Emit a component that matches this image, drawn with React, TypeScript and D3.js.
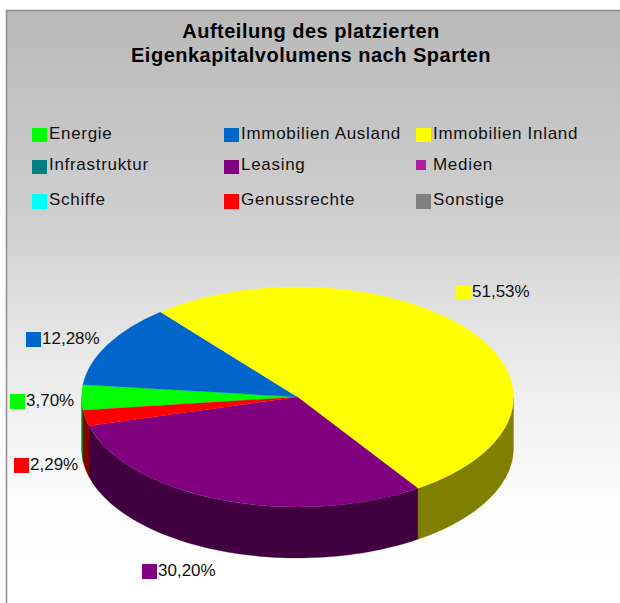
import React from "react";
import * as d3 from "d3";

const categories = ["Energie", "Immobilien Ausland", "Immobilien Inland", "Infrastruktur", "Leasing", "Medien", "Schiffe", "Genussrechte", "Sonstige"];
const shares = [3.7, 12.28, 51.53, 0, 30.2, 0, 0, 2.29, 0];
const colors = ["#00ff00", "#0066cc", "#ffff00", "#008080", "#800080", "#b01ea0", "#00ffff", "#ff0000", "#808080"];
const sideColors = ["#008000", "#003366", "#808000", "#004040", "#400040", "#580f50", "#008080", "#800000", "#404040"];
const titleLines = ["Aufteilung des platzierten", "Eigenkapitalvolumens nach Sparten"];
const labelText = ["3,70%", "12,28%", "51,53%", "", "30,20%", "", "", "2,29%", ""];

const W = 620, H = 603;
const cx = 297.5, cy = 397, rx = 216, ry = 110, depth = 51;
const startDeg = -96.9;
const legendCols = [32, 224, 416];
const legendRows = [128, 160, 194];
const legendH = [14, 14, 15];
const legendBase = [139, 170, 205];
const labelPos: Record<number, [number, number]> = {
  0: [10, 394], 1: [26, 332], 2: [456, 285], 4: [142, 564], 7: [14, 458],
};
const bgStops: [number, string][] = [
  [10, "#b9b9b9"], [230, "#d0d0d0"], [300, "#dfdfdf"], [400, "#f0f0f0"], [500, "#fcfcfc"], [560, "#ffffff"],
];

export default function App() {
  const start = (startDeg * Math.PI) / 180;
  const pie = d3.pie<number>().sort(null).startAngle(start).endAngle(start + 2 * Math.PI);
  const arcs = pie(shares);
  const arc = d3.arc<d3.PieArcDatum<number>>().innerRadius(0).outerRadius(rx);
  const px = (a: number) => cx + rx * Math.sin(a);
  const py = (a: number) => cy - ry * Math.cos(a);

  const walls = arcs.flatMap((s, i) => {
    const out: React.ReactElement[] = [];
    for (const k of [-1, 0, 1]) {
      const a0 = Math.max(s.startAngle + k * 2 * Math.PI, Math.PI / 2);
      const a1 = Math.min(s.endAngle + k * 2 * Math.PI, (3 * Math.PI) / 2);
      if (a1 <= a0) continue;
      const as = d3.range(0, 61).map((j) => a0 + ((a1 - a0) * j) / 60);
      const pts: [number, number][] = [
        ...as.map((a) => [px(a), py(a)] as [number, number]),
        ...as.slice().reverse().map((a) => [px(a), py(a) + depth] as [number, number]),
      ];
      out.push(
        <path key={`${i}-${k}`} d={d3.line()(pts) + "Z"} fill={sideColors[i]} stroke={sideColors[i]} strokeWidth={0.3} />
      );
    }
    return out;
  });

  return (
    <svg width={W} height={H} style={{ position: "absolute", left: 0, top: 0 }} fontFamily="'Liberation Sans', Arial, sans-serif">
      <defs>
        <linearGradient id="bg" gradientUnits="userSpaceOnUse" x1="0" y1="0" x2="0" y2={H}>
          {bgStops.map(([y, c]) => <stop key={y} offset={y / H} stopColor={c} />)}
        </linearGradient>
      </defs>
      <rect x={6} y={10} width={W - 6} height={H - 10} fill="url(#bg)" />
      <path d={`M6.5 ${H}V10.5H${W}`} fill="none" stroke="#8c8c8c" strokeWidth={1.5} />
      {titleLines.map((t, i) => (
        <text key={t} x={311} y={38 + i * 24} textAnchor="middle" fontSize={20} letterSpacing={0.5} fontWeight="bold" fill="#000">{t}</text>
      ))}
      {categories.map((c, i) => {
        const col = i % 3, row = Math.floor(i / 3);
        const small = c === "Medien";
        return (
          <g key={c}>
            <rect x={legendCols[col]} y={legendRows[row]} width={small ? 10 : 15} height={small ? 10 : legendH[row]} fill={colors[i]} />
            <text x={legendCols[col] + 17} y={legendBase[row]} fontSize={17} letterSpacing={0.7} fill="#111">{c}</text>
          </g>
        );
      })}
      {walls}
      <g transform={`translate(${cx},${cy}) scale(1,${ry / rx})`}>
        {arcs.map((s, i) => s.value > 0 && (
          <path key={i} d={arc(s) as string} fill={colors[i]} stroke={colors[i]} strokeWidth={0.3} />
        ))}
      </g>
      {shares.map((v, i) => v > 0 && (
        <g key={i}>
          <rect x={labelPos[i][0]} y={labelPos[i][1]} width={15} height={15} fill={colors[i]} />
          <text x={labelPos[i][0] + 16} y={labelPos[i][1] + 11.5} fontSize={17} fill="#111">{labelText[i]}</text>
        </g>
      ))}
    </svg>
  );
}
